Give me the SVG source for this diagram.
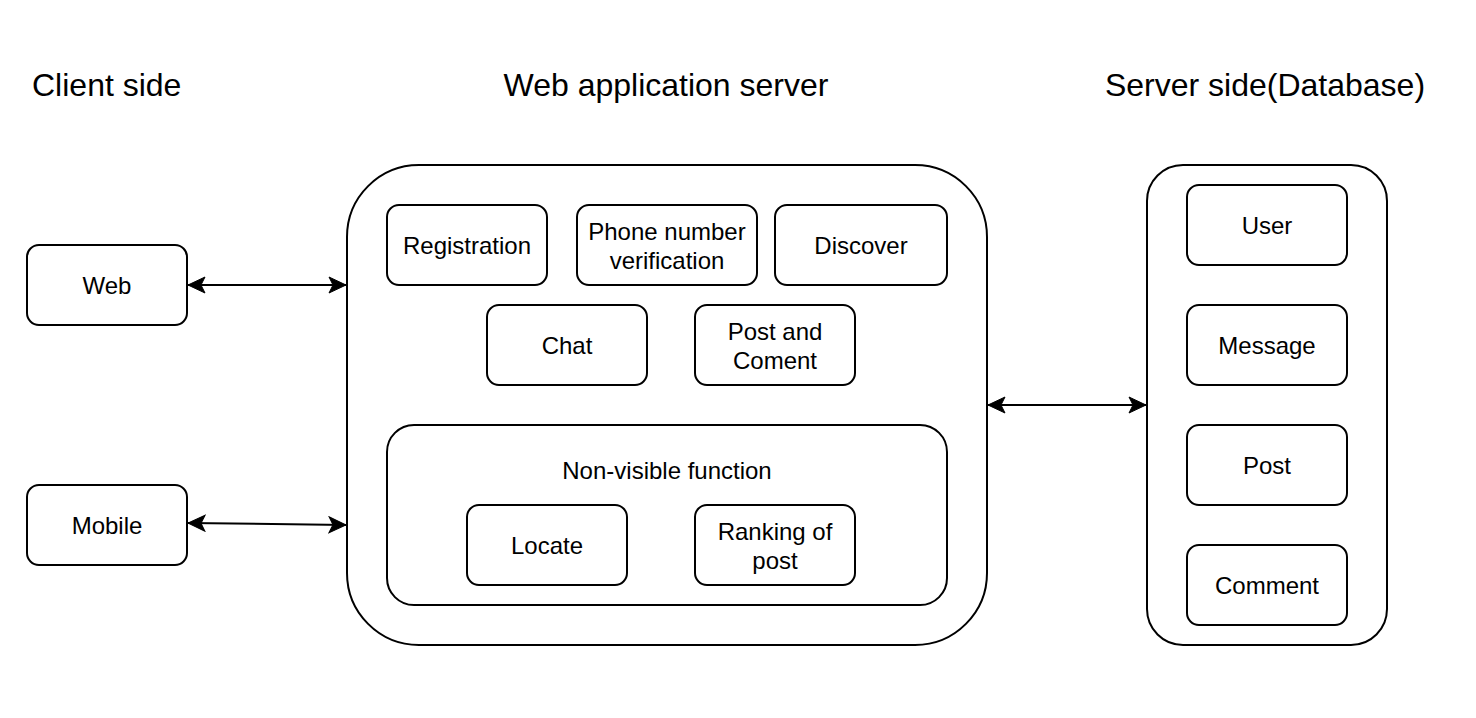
<svg xmlns="http://www.w3.org/2000/svg" width="1476" height="718" viewBox="0 0 1476 718">
<style>
.box{fill:#fff;stroke:#000;stroke-width:2}
.t{font-family:"Liberation Sans",Arial,Helvetica,sans-serif;font-size:24px;fill:#000;text-anchor:middle}
.title{font-family:"Liberation Sans",Arial,Helvetica,sans-serif;font-size:32px;fill:#000}
.edge{fill:none;stroke:#000;stroke-width:2}
</style>
<defs>
<marker id="ah" markerUnits="userSpaceOnUse" viewBox="-18 -9 19 18" refX="0" refY="0" markerWidth="19" markerHeight="18" orient="auto-start-reverse">
<path d="M0,0 L-17,-8 L-13,0 L-17,8 Z" fill="#000" stroke="#000" stroke-width="1"/>
</marker>
</defs>
<rect width="1476" height="718" fill="#fff"/>
<g id="titles">
<text class="title" x="32" y="96">Client side</text>
<text class="title" x="666" y="96" text-anchor="middle">Web application server</text>
<text class="title" x="1265" y="96" text-anchor="middle">Server side(Database)</text>
</g>
<g id="web"><rect class="box" x="27" y="245" width="160" height="80" rx="12"/><text class="t" x="107" y="293.5">Web</text></g>
<g id="mobile"><rect class="box" x="27" y="485" width="160" height="80" rx="12"/><text class="t" x="107" y="533.5">Mobile</text></g>
<g id="app-server"><rect class="box" x="347" y="165" width="640" height="480" rx="72"/></g>
<g id="registration"><rect class="box" x="387" y="205" width="160" height="80" rx="12"/><text class="t" x="467" y="253.5">Registration</text></g>
<g id="phone"><rect class="box" x="577" y="205" width="180" height="80" rx="12"/><text class="t" x="667" y="239.5">Phone number</text><text class="t" x="667" y="268.5">verification</text></g>
<g id="discover"><rect class="box" x="775" y="205" width="172" height="80" rx="12"/><text class="t" x="861" y="253.5">Discover</text></g>
<g id="chat"><rect class="box" x="487" y="305" width="160" height="80" rx="12"/><text class="t" x="567" y="353.5">Chat</text></g>
<g id="post-comment"><rect class="box" x="695" y="305" width="160" height="80" rx="12"/><text class="t" x="775" y="339.5">Post and</text><text class="t" x="775" y="368.5">Coment</text></g>
<g id="non-visible"><rect class="box" x="387" y="425" width="560" height="180" rx="27"/><text class="t" x="667" y="479">Non-visible function</text></g>
<g id="locate"><rect class="box" x="467" y="505" width="160" height="80" rx="12"/><text class="t" x="547" y="553.5">Locate</text></g>
<g id="ranking"><rect class="box" x="695" y="505" width="160" height="80" rx="12"/><text class="t" x="775" y="539.5">Ranking of</text><text class="t" x="775" y="568.5">post</text></g>
<g id="database"><rect class="box" x="1147" y="165" width="240" height="480" rx="36"/></g>
<g id="user"><rect class="box" x="1187" y="185" width="160" height="80" rx="12"/><text class="t" x="1267" y="233.5">User</text></g>
<g id="message"><rect class="box" x="1187" y="305" width="160" height="80" rx="12"/><text class="t" x="1267" y="353.5">Message</text></g>
<g id="post"><rect class="box" x="1187" y="425" width="160" height="80" rx="12"/><text class="t" x="1267" y="473.5">Post</text></g>
<g id="comment"><rect class="box" x="1187" y="545" width="160" height="80" rx="12"/><text class="t" x="1267" y="593.5">Comment</text></g>
<g id="connectors">
<path class="edge" d="M188,285 L346,285" marker-start="url(#ah)" marker-end="url(#ah)"/>
<path class="edge" d="M188,523 L346,525" marker-start="url(#ah)" marker-end="url(#ah)"/>
<path class="edge" d="M988,405 L1146,405" marker-start="url(#ah)" marker-end="url(#ah)"/>
</g>
</svg>
